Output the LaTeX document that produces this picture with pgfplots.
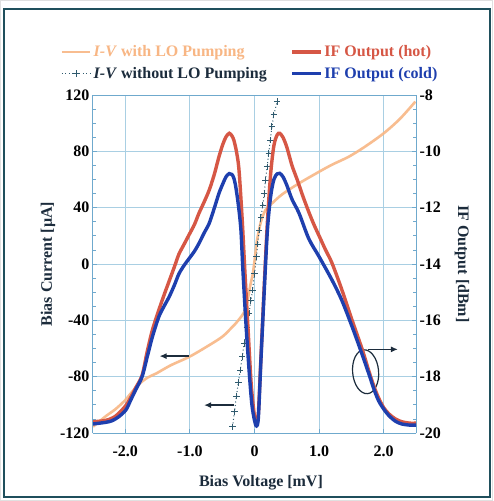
\documentclass[border=0pt]{standalone}
\usepackage{fontspec}
\setmainfont{Liberation Serif}
\usepackage{pgfplots}
\pgfplotsset{compat=1.18}
\usetikzlibrary{arrows.meta}
\definecolor{ivlo}{HTML}{F8B684}
\definecolor{hot}{HTML}{D65745}
\definecolor{cold}{HTML}{1E3FAE}
\definecolor{ivno}{HTML}{2F5A6E}
\definecolor{axcol}{HTML}{6FA9CD}
\definecolor{gridcol}{HTML}{A9CFE3}
\definecolor{framecol}{HTML}{1F4F5C}
\definecolor{txtdark}{HTML}{1C2C3C}

\pgfplotsset{
  common/.style={
    scale only axis, width=323pt, height=338pt,
    at={(0,0)}, anchor=south west,
    xmin=-2.5, xmax=2.5,
    axis line style={axcol, line width=1pt},
    tick style={axcol, line width=0.8pt},
    major tick length=4pt, minor tick length=3pt,
    minor y tick num=3,
    tick label style={font=\bfseries\fontsize{16}{19}\selectfont, black},
    label style={font=\bfseries\fontsize{16}{19}\selectfont, txtdark},
  }
}

\begin{document}
\begin{tikzpicture}
\fill[white] (-93pt,-68pt) rectangle (400pt,433pt);
\draw[black!12, line width=1pt] (-92.5pt,-67.5pt) rectangle (399.5pt,432.5pt);
\draw[framecol, line width=1.3pt] (-89pt,-64pt) rectangle (397pt,424pt);

\begin{axis}[common,
  ymin=-120, ymax=120,
  axis y line*=left,
  xtick={-2,-1,0,1,2}, xticklabels={-2.0,-1.0,0,1.0,2.0},
  xtick pos=bottom,
  xticklabel style={yshift=-9pt},
  ytick={-120,-80,-40,0,40,80,120},
  yticklabels={-120,-80,-40,0,40,80,120},
  grid=major, major grid style={gridcol, line width=0.8pt},
  xlabel={Bias Voltage [mV]}, ylabel={Bias Current [µA]},
  xlabel style={at={(axis description cs:0.52,-0.148)}, anchor=center},
  ylabel style={at={(axis description cs:-0.139,0.5)}, anchor=center, rotate=0},
]
\addplot[ivlo, line width=2.6pt, smooth, opacity=0.9] coordinates {
(-2.5,-115.5) (-2.3,-108) (-2.15,-103) (-2.0,-96.6) (-1.9,-91) (-1.78,-85)
(-1.65,-80.5) (-1.52,-77.7) (-1.3,-72) (-1.01,-65.9) (-0.75,-59) (-0.5,-51.7)
(-0.35,-45) (-0.25,-40) (-0.14,-32) (-0.06,-14) (-0.03,-8) (0.0,2) (0.04,17)
(0.1,30) (0.17,38.3) (0.27,43) (0.43,49.5) (0.69,57.3) (1.0,65.5) (1.2,70.5)
(1.46,76.2) (1.7,83) (2.0,92.8) (2.25,103) (2.49,115.3)
};
\addplot[ivno, line width=1pt, dash pattern=on 1pt off 2.5pt, mark=+, mark size=3.2pt,
  mark options={solid, line width=1pt}] coordinates {
(-0.34,-115.6) (-0.31,-105) (-0.28,-93.8) (-0.25,-84) (-0.22,-75.3) (-0.19,-66)
(-0.16,-56.4) (-0.12,-45) (-0.085,-35) (-0.055,-26) (-0.03,-18.5) (0.0,-7)
(0.03,5) (0.05,14) (0.07,24) (0.10,33) (0.13,41.8) (0.15,50) (0.17,59.6)
(0.195,69) (0.22,78.6) (0.245,88) (0.27,97.5) (0.30,106) (0.35,115.3)
};
\draw[txtdark, line width=1.3pt, -{Latex[length=7pt,width=6pt]}] (axis cs:-1.01,-65.4) -- (axis cs:-1.47,-65.4);
\draw[txtdark, line width=1.3pt, -{Latex[length=7pt,width=6pt]}] (axis cs:-0.32,-100.2) -- (axis cs:-0.78,-100.2);
\draw[txtdark, line width=1.3pt, -{Latex[length=7pt,width=6pt]}] (axis cs:1.76,-60.6) -- (axis cs:2.22,-60.6);
\draw[txtdark, line width=1.2pt, rotate around={5:(axis cs:1.72,-76.5)}] (axis cs:1.72,-76.5) ellipse [x radius=13pt, y radius=22pt];
\end{axis}

\begin{axis}[common,
  ymin=-20, ymax=-8,
  axis y line*=right, axis x line=none,
  ytick={-20,-18,-16,-14,-12,-10,-8},
  yticklabels={-20,-18,-16,-14,-12,-10,-8},
  ylabel={IF Output [dBm]},
  ylabel style={at={(axis description cs:1.142,0.5)}, anchor=center, rotate=180},
  legend columns=2,
  legend cell align=left,
  legend style={draw=none, fill=none, at={(-0.11,1.158)}, anchor=north west,
    font=\bfseries\fontsize{16}{19}\selectfont,
    /tikz/every even column/.append style={column sep=22pt},
    row sep=5pt},
  legend image code/.code={\draw[mark repeat=2,mark phase=2,#1] plot coordinates {(0cm,0cm) (0.5cm,0cm) (1cm,0cm)};},
]
\addlegendimage{ivlo, line width=2.6pt, opacity=0.9}
\addlegendentry{\textcolor{ivlo}{\textit{I-V} with LO Pumping}}
\addlegendimage{hot, line width=3.2pt}
\addlegendentry{\textcolor{hot}{IF Output (hot)}}
\addlegendimage{ivno, line width=1pt, dash pattern=on 1pt off 2.5pt, mark=+, mark size=3.2pt, mark options={solid}}
\addlegendentry{\textcolor{txtdark}{\textit{I-V} without LO Pumping}}
\addlegendimage{cold, line width=3.2pt}
\addlegendentry{\textcolor{cold}{IF Output (cold)}}

\addplot[hot, line width=3.4pt, smooth, tension=0.5, forget plot] coordinates {
(-2.5,-19.6) (-2.3,-19.55) (-2.15,-19.4) (-2.0,-19.05) (-1.92,-18.75) (-1.84,-18.4)
(-1.74,-17.95) (-1.66,-17.1) (-1.58,-16.34) (-1.48,-15.63) (-1.40,-15.1) (-1.32,-14.6)
(-1.24,-14.1) (-1.17,-13.65) (-1.09,-13.3) (-1.01,-12.95) (-0.93,-12.6) (-0.86,-12.2)
(-0.78,-11.8) (-0.70,-11.37) (-0.62,-10.8) (-0.55,-10.19) (-0.49,-9.75) (-0.44,-9.48)
(-0.39,-9.36) (-0.35,-9.45) (-0.32,-9.6) (-0.28,-10.0) (-0.24,-10.66) (-0.19,-12.44)
(-0.15,-14.21) (-0.10,-16.3) (-0.05,-18.3) (0.0,-19.4) (0.03,-19.6) (0.06,-19.3)
(0.1,-17.3) (0.15,-14.8) (0.2,-12.5) (0.25,-10.8) (0.3,-9.8) (0.35,-9.42) (0.39,-9.36)
(0.44,-9.5) (0.5,-9.85) (0.58,-10.5) (0.66,-11.0) (0.75,-11.6) (0.84,-12.15)
(0.92,-12.6) (1.0,-13.0) (1.1,-13.5) (1.2,-13.97) (1.35,-14.9) (1.51,-15.99)
(1.67,-17.05) (1.77,-17.8) (1.85,-18.35) (1.92,-18.75) (2.0,-19.1) (2.08,-19.32)
(2.18,-19.5) (2.28,-19.6) (2.4,-19.65) (2.5,-19.65)
};
\addplot[cold, line width=3.4pt, smooth, tension=0.5, forget plot] coordinates {
(-2.5,-19.68) (-2.3,-19.62) (-2.2,-19.56) (-2.1,-19.42) (-1.99,-19.18) (-1.92,-18.85)
(-1.84,-18.47) (-1.74,-18.0) (-1.66,-17.29) (-1.58,-16.58) (-1.48,-15.87) (-1.40,-15.5)
(-1.32,-15.16) (-1.24,-14.75) (-1.17,-14.35) (-1.09,-14.05) (-1.01,-13.8) (-0.93,-13.55)
(-0.86,-13.27) (-0.78,-12.9) (-0.70,-12.55) (-0.62,-12.0) (-0.55,-11.49) (-0.49,-11.15)
(-0.44,-10.9) (-0.39,-10.79) (-0.35,-10.82) (-0.32,-10.95) (-0.29,-11.26) (-0.25,-11.9)
(-0.21,-12.8) (-0.18,-14.2) (-0.13,-16.2) (-0.08,-17.9) (-0.04,-19.0) (0.0,-19.55)
(0.03,-19.75) (0.06,-19.45) (0.1,-17.4) (0.15,-15.0) (0.2,-12.8) (0.25,-11.6)
(0.3,-11.0) (0.35,-10.8) (0.39,-10.78) (0.44,-10.9) (0.5,-11.2) (0.58,-11.7)
(0.69,-12.2) (0.84,-13.1) (1.0,-13.74) (1.2,-14.57) (1.35,-15.28) (1.51,-16.22)
(1.66,-17.17) (1.77,-17.9) (1.85,-18.45) (1.92,-18.85) (2.0,-19.15) (2.08,-19.38)
(2.18,-19.58) (2.28,-19.68) (2.4,-19.72) (2.5,-19.72)
};
\end{axis}
\end{tikzpicture}
\end{document}
